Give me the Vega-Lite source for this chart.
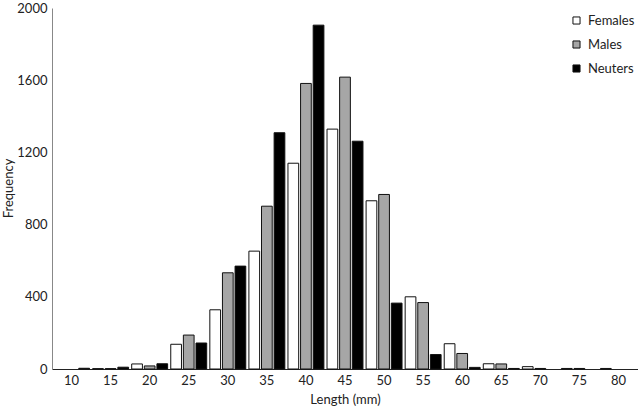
{
  "$schema": "https://vega.github.io/schema/vega-lite/v6.json",
  "width": 586,
  "height": 361,
  "autosize": {"type": "none"},
  "padding": {"left": 52, "top": 8, "right": 0, "bottom": 40},
  "background": "white",
  "config": {
    "view": {"stroke": null},
    "font": "Lato",
    "axis": {"labelFont": "Lato", "titleFont": "Lato", "labelColor": "#222", "titleColor": "#222", "labelFontSize": 13, "titleFontSize": 13, "titleFontWeight": "normal", "grid": false, "ticks": false, "domainColor": "#888"}
  },
  "data": {
    "values": [
      {"length": 10, "sex": "Females", "n": 0},
      {"length": 10, "sex": "Males", "n": 0},
      {"length": 10, "sex": "Neuters", "n": 4},
      {"length": 15, "sex": "Females", "n": 2},
      {"length": 15, "sex": "Males", "n": 2},
      {"length": 15, "sex": "Neuters", "n": 10},
      {"length": 20, "sex": "Females", "n": 28},
      {"length": 20, "sex": "Males", "n": 17},
      {"length": 20, "sex": "Neuters", "n": 29},
      {"length": 25, "sex": "Females", "n": 137},
      {"length": 25, "sex": "Males", "n": 188},
      {"length": 25, "sex": "Neuters", "n": 144},
      {"length": 30, "sex": "Females", "n": 328},
      {"length": 30, "sex": "Males", "n": 533},
      {"length": 30, "sex": "Neuters", "n": 570},
      {"length": 35, "sex": "Females", "n": 653},
      {"length": 35, "sex": "Males", "n": 902},
      {"length": 35, "sex": "Neuters", "n": 1309},
      {"length": 40, "sex": "Females", "n": 1140},
      {"length": 40, "sex": "Males", "n": 1582},
      {"length": 40, "sex": "Neuters", "n": 1905},
      {"length": 45, "sex": "Females", "n": 1329},
      {"length": 45, "sex": "Males", "n": 1617},
      {"length": 45, "sex": "Neuters", "n": 1262},
      {"length": 50, "sex": "Females", "n": 932},
      {"length": 50, "sex": "Males", "n": 967},
      {"length": 50, "sex": "Neuters", "n": 365},
      {"length": 55, "sex": "Females", "n": 400},
      {"length": 55, "sex": "Males", "n": 368},
      {"length": 55, "sex": "Neuters", "n": 80},
      {"length": 60, "sex": "Females", "n": 140},
      {"length": 60, "sex": "Males", "n": 86},
      {"length": 60, "sex": "Neuters", "n": 9},
      {"length": 65, "sex": "Females", "n": 29},
      {"length": 65, "sex": "Males", "n": 28},
      {"length": 65, "sex": "Neuters", "n": 3},
      {"length": 70, "sex": "Females", "n": 13},
      {"length": 70, "sex": "Males", "n": 3},
      {"length": 70, "sex": "Neuters", "n": 0},
      {"length": 75, "sex": "Females", "n": 3},
      {"length": 75, "sex": "Males", "n": 3},
      {"length": 75, "sex": "Neuters", "n": 0},
      {"length": 80, "sex": "Females", "n": 3},
      {"length": 80, "sex": "Males", "n": 0},
      {"length": 80, "sex": "Neuters", "n": 0}
    ]
  },
  "transform": [{"filter": "datum.n > 0"}],
  "mark": {"type": "bar", "stroke": "#111", "strokeWidth": 1},
  "encoding": {
    "x": {
      "field": "length", "type": "ordinal",
      "scale": {"domain": [10, 15, 20, 25, 30, 35, 40, 45, 50, 55, 60, 65, 70, 75, 80], "paddingInner": 0.08, "paddingOuter": 0.04},
      "axis": {"title": "Length (mm)", "labelAngle": 0, "labelPadding": 5, "titlePadding": 6, "domainColor": "#222"}
    },
    "xOffset": {"field": "sex", "type": "nominal", "scale": {"domain": ["Females", "Males", "Neuters"], "paddingInner": 0.15, "paddingOuter": 0}},
    "y": {
      "field": "n", "type": "quantitative",
      "scale": {"domain": [0, 2000], "nice": false},
      "axis": {"title": "Frequency", "format": "d", "values": [0, 400, 800, 1200, 1600, 2000], "labelPadding": 5, "titleX": -44, "titleY": 180, "titleBaseline": "middle", "titleAngle": -90}
    },
    "fill": {
      "field": "sex", "type": "nominal",
      "scale": {"domain": ["Females", "Males", "Neuters"], "range": ["#ffffff", "#a6a6a6", "#000000"]},
      "legend": {
        "title": null, "orient": "none", "legendX": 518, "legendY": 6,
        "symbolType": "square", "symbolSize": 50, "symbolStrokeColor": "#111", "symbolStrokeWidth": 1,
        "labelFont": "Lato", "labelFontSize": 13, "labelColor": "#222", "rowPadding": 10, "labelOffset": 5, "padding": 0
      }
    }
  }
}
